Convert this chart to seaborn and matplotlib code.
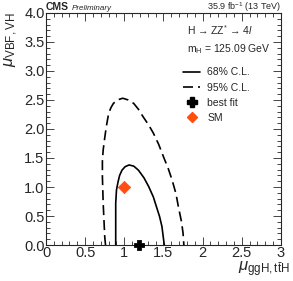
import numpy as np
import pandas as pd
import seaborn as sns
import matplotlib.pyplot as plt
from matplotlib.lines import Line2D
from matplotlib.ticker import MultipleLocator

sns.set_theme(style="ticks")
plt.rcParams['font.family'] = ['Liberation Sans', 'DejaVu Sans']
plt.rcParams['mathtext.fontset'] = 'custom'
plt.rcParams['mathtext.rm'] = 'Liberation Sans'
plt.rcParams['mathtext.it'] = 'Liberation Sans:italic'

# contour points
cl68_x = [0.89, 0.89, 0.89, 0.90, 0.92, 0.94, 0.97, 1.01, 1.06, 1.12, 1.18, 1.25, 1.31, 1.37, 1.41, 1.45, 1.48, 1.51]
cl68_y = [0.00, 0.35, 0.72, 0.95, 1.09, 1.20, 1.29, 1.35, 1.38, 1.36, 1.29, 1.16, 1.01, 0.83, 0.66, 0.49, 0.32, 0.00]
cl95_x = [0.76, 0.75, 0.73, 0.72, 0.72, 0.73, 0.75, 0.77, 0.80, 0.83, 0.86, 0.91, 0.98, 1.05, 1.12, 1.18, 1.24,
          1.31, 1.37, 1.44, 1.50, 1.56, 1.61, 1.66, 1.69, 1.73, 1.75, 1.76]
cl95_y = [0.00, 0.14, 0.72, 1.18, 1.45, 1.64, 1.85, 2.04, 2.27, 2.37, 2.44, 2.50, 2.53, 2.50, 2.44, 2.34, 2.21,
          2.07, 1.93, 1.73, 1.52, 1.32, 1.12, 0.88, 0.66, 0.40, 0.20, 0.00]
best_fit = (1.19, 0.0)
sm_point = (1.0, 1.0)
sm_color = "#ff4f10"

df68 = pd.DataFrame({"x": cl68_x, "y": cl68_y})
df95 = pd.DataFrame({"x": cl95_x, "y": cl95_y})

fig = plt.figure(figsize=(2.93, 2.81), dpi=100)
ax = fig.add_axes([0.157, 0.128, 0.802, 0.826])

sns.lineplot(data=df68, x="x", y="y", sort=False, estimator=None, ax=ax,
             color="black", lw=1.2)
sns.lineplot(data=df95, x="x", y="y", sort=False, estimator=None, ax=ax,
             color="black", lw=1.2, dashes=False, linestyle=(0, (6, 3)))
sns.scatterplot(x=[sm_point[0]], y=[sm_point[1]], marker="D", s=40, color=sm_color,
                edgecolor=sm_color, ax=ax, zorder=5)
sns.scatterplot(x=[best_fit[0]], y=[best_fit[1]], marker="P", s=50, color="black",
                edgecolor="black", ax=ax, zorder=6, clip_on=False)

ax.set_xlim(0, 3)
ax.set_ylim(0, 4)
ax.xaxis.set_major_locator(MultipleLocator(0.5))
ax.xaxis.set_minor_locator(MultipleLocator(0.1))
ax.yaxis.set_major_locator(MultipleLocator(0.5))
ax.yaxis.set_minor_locator(MultipleLocator(0.1))
ax.tick_params(which="both", direction="in", top=True, right=True, labelsize=10.5, pad=1)
ax.tick_params(which="major", length=6, width=0.6)
ax.tick_params(which="minor", length=3, width=0.6)
for s in ax.spines.values():
    s.set_linewidth(0.8)
ax.set_xticks([0, 0.5, 1, 1.5, 2, 2.5, 3])
ax.set_xticklabels(["0", "0.5", "1", "1.5", "2", "2.5", "3"])

ax.set_xlabel(r"$\mu_{\mathrm{ggH,t\bar{t}H}}$", fontsize=12)
ax.xaxis.set_label_coords(1.04, -0.06)
ax.xaxis.label.set_horizontalalignment("right")
ax.set_ylabel(r"$\mu_{\mathrm{VBF,VH}}$", fontsize=12)
ax.yaxis.set_label_coords(-0.11, 1.0)
ax.yaxis.label.set_horizontalalignment("right")

ax.text(0.0, 1.012, "CMS", transform=ax.transAxes, fontsize=7.5, fontweight="bold", va="baseline")
ax.text(0.11, 1.012, "Preliminary", transform=ax.transAxes, fontsize=5.8, style="italic", va="baseline")
ax.text(1.0, 1.012, r"35.9 fb$^{-1}$ (13 TeV)", transform=ax.transAxes, fontsize=6.5,
        ha="right", va="baseline")

ax.text(0.60, 0.905, r"H → ZZ$^{*}$ → 4$l$", transform=ax.transAxes, fontsize=7.5,
        family=['Liberation Sans', 'DejaVu Sans'])
ax.text(0.60, 0.83, r"m$_{\mathrm{H}}$ = 125.09 GeV", transform=ax.transAxes, fontsize=7.5)

handles = [
    Line2D([], [], color="black", lw=1.2),
    Line2D([], [], color="black", lw=1.2, linestyle=(0, (6, 3))),
    Line2D([], [], color="black", marker="P", ms=6.5, lw=0),
    Line2D([], [], color=sm_color, marker="D", ms=5.5, lw=0),
]
labels = ["68% C.L.", "95% C.L.", "best fit", "SM"]
ax.legend(handles, labels, loc="upper left", bbox_to_anchor=(0.585, 0.765), frameon=False,
          fontsize=7.5, handlelength=1.6, handletextpad=0.7, labelspacing=0.5,
          borderaxespad=0, borderpad=0)

fig.savefig("out.png", dpi=100)
